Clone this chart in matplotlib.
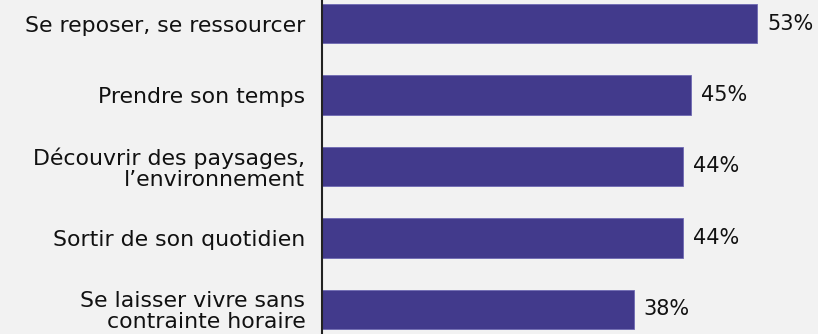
import matplotlib.pyplot as plt

labels = ["Se reposer, se ressourcer", "Prendre son temps",
          "Découvrir des paysages,\nl’environnement", "Sortir de son quotidien",
          "Se laisser vivre sans\ncontrainte horaire"]
values = [53, 45, 44, 44, 38]

plt.rcParams['font.family'] = ['DejaVu Sans']

fig = plt.figure(figsize=(8.18, 3.34), dpi=100)
fig.patch.set_facecolor('#f2f2f2')
ax = fig.add_axes([322 / 818, 0, 496 / 818, 1])
ax.set_facecolor('#f2f2f2')

pos = list(range(len(values)))
ax.barh(pos, values, height=0.55, color='#423a8c', edgecolor='#6f69b3', linewidth=0.6)

for p, v in zip(pos, values):
    ax.text(v + 1.2, p, f"{v}%", va='center', ha='left', fontsize=15, color='#111111')

ax.set_xlim(0, 496 / 8.21)
ax.set_ylim(4.343, -0.329)
ax.set_yticks(pos)
ax.set_yticklabels(labels, fontsize=15.8, color='#111111', linespacing=1.05)
ax.tick_params(axis='y', length=0, pad=12)
ax.set_xticks([])
for s in ['top', 'right', 'bottom']:
    ax.spines[s].set_visible(False)
ax.spines['left'].set_color('#222222')
ax.spines['left'].set_linewidth(1.5)

fig.savefig('out.png', dpi=100, facecolor=fig.get_facecolor())
